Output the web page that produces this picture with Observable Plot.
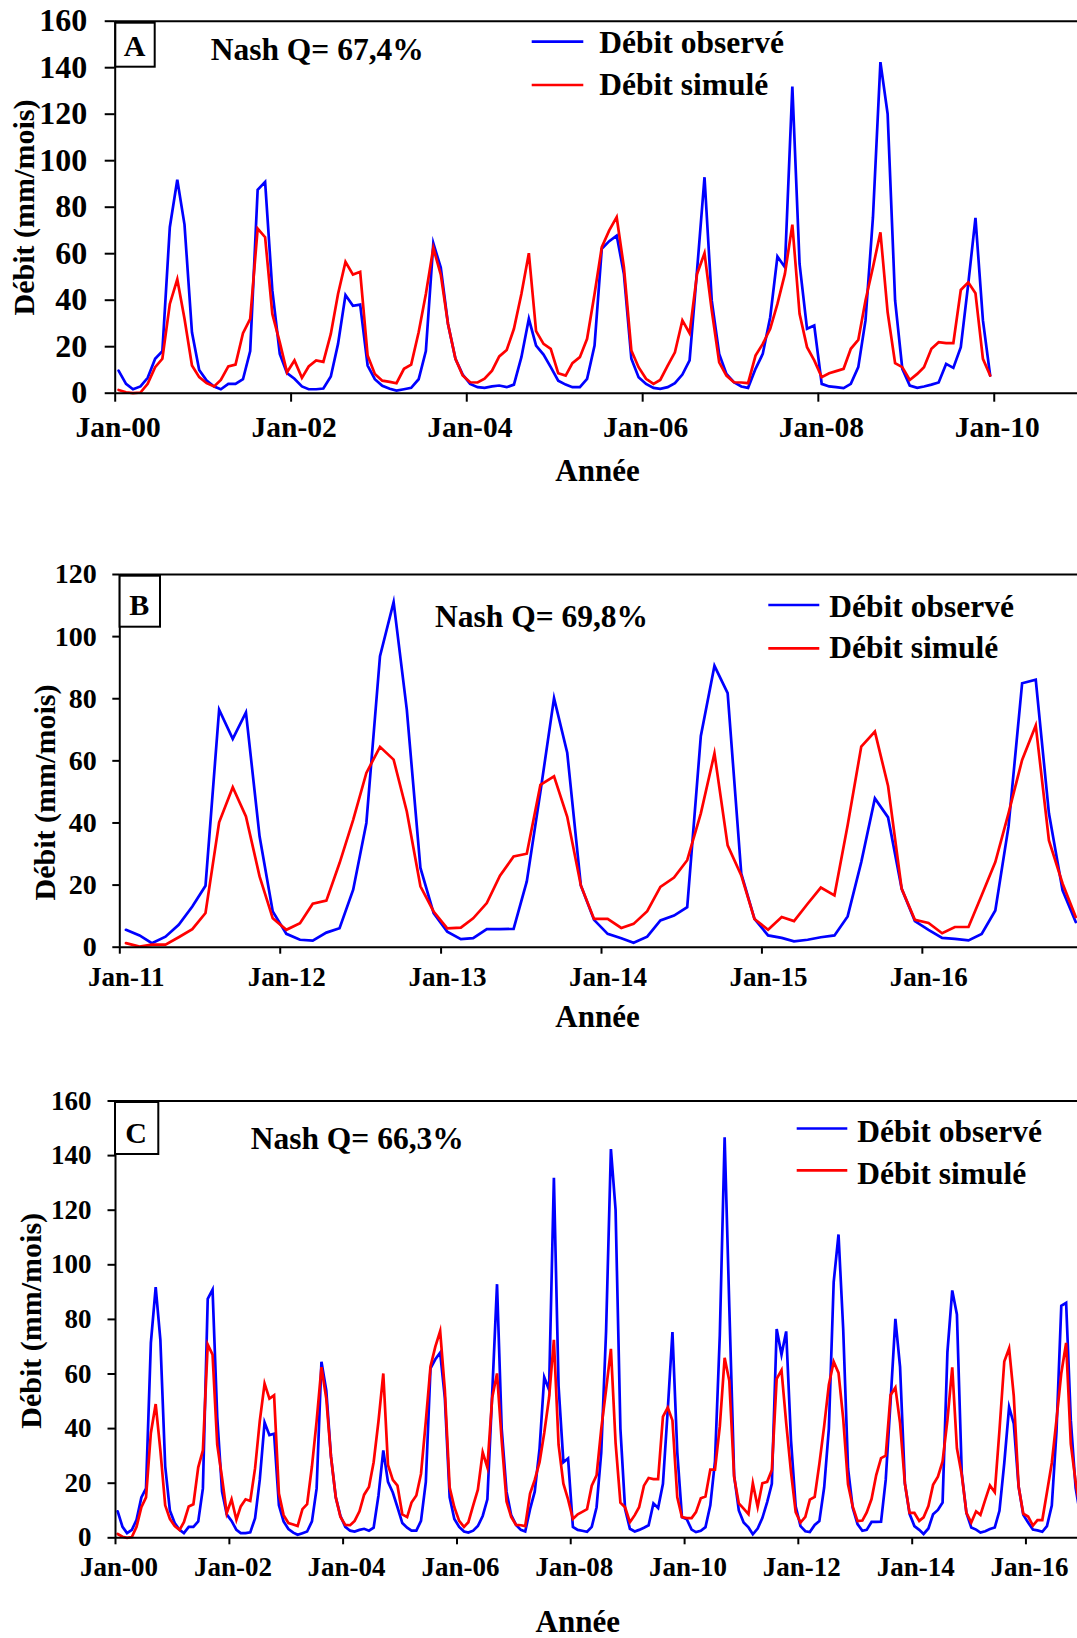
<!DOCTYPE html>
<html>
<head>
<meta charset="utf-8">
<script src="https://cdn.jsdelivr.net/npm/d3@7"></script>
<script src="https://cdn.jsdelivr.net/npm/@observablehq/plot@0.6"></script>
<style>
  body { margin: 0; background: #fff; }
  #fig { position: relative; width: 1077px; height: 1638px; overflow: hidden; background: #fff; }
  #fig > div.pl { position: absolute; left: 0; }
</style>
</head>
<body>
<div id="fig"></div>
<script>
// ---------------- DATA ----------------
// Panel A : monthly discharge, Jan 2000 - Dec 2009 (mm/month)
const obsA = [
  9.7, 4.0, 1.7, 2.9, 6.6, 14.8, 18.1, 71.4, 91.8, 72.5, 26.2, 10.0,
  5.4, 2.9, 1.7, 4.0, 4.0, 6.0, 18.1, 87.5, 90.9, 44.2, 16.9, 8.6,
  6.2, 2.9, 1.7, 1.7, 2.0, 7.2, 21.2, 42.2, 37.6, 38.1, 11.9, 6.0,
  3.2, 1.9, 1.1, 1.7, 2.3, 6.0, 18.1, 64.5, 54.0, 29.8, 14.8, 8.0,
  4.0, 2.6, 2.3, 2.9, 3.3, 2.6, 3.7, 15.5, 32.0, 20.5, 16.6, 11.2,
  5.4, 3.7, 2.6, 2.6, 6.2, 20.5, 62.1, 65.4, 67.8, 51.3, 14.8, 6.9,
  4.0, 2.3, 1.9, 2.6, 4.3, 8.0, 14.1, 52.8, 92.9, 39.9, 16.9, 8.3,
  4.7, 2.9, 2.3, 10.5, 16.9, 32.7, 58.8, 54.2, 131.9, 55.6, 27.7, 29.1,
  4.0, 2.9, 2.6, 2.2, 4.0, 11.2, 31.3, 75.7, 142.4, 120.1, 39.9, 10.5,
  3.3, 2.3, 2.9, 3.7, 4.6, 12.6, 10.9, 19.8, 47.0, 75.4, 31.3, 7.6
];
const simA = [
  1.4, 0.4, 0.0, 0.3, 4.0, 11.2, 14.8, 38.4, 49.0, 32.0, 11.9, 6.9,
  4.3, 2.9, 5.7, 11.5, 12.3, 25.8, 32.0, 70.8, 67.1, 34.1, 21.9, 9.0,
  14.1, 6.6, 11.5, 14.1, 13.5, 25.5, 42.7, 56.5, 51.0, 52.2, 16.2, 8.3,
  5.4, 4.9, 4.3, 10.5, 12.3, 26.2, 42.7, 62.5, 51.0, 29.8, 14.8, 7.6,
  4.7, 4.6, 6.2, 9.7, 15.8, 18.6, 27.7, 42.7, 60.2, 26.7, 21.2, 19.1,
  8.6, 7.6, 12.9, 15.5, 23.4, 42.7, 62.8, 70.0, 75.7, 54.2, 18.4, 11.2,
  6.2, 4.0, 5.7, 11.9, 17.6, 31.3, 25.8, 51.3, 60.2, 35.6, 13.3, 7.6,
  4.7, 4.6, 4.3, 16.2, 21.2, 27.7, 38.4, 51.3, 72.5, 34.1, 19.8, 14.1,
  6.9, 8.6, 9.5, 10.5, 19.1, 22.9, 39.9, 54.2, 69.2, 34.8, 12.9, 11.2,
  5.7, 8.3, 11.2, 19.1, 21.9, 21.5, 21.5, 44.4, 47.7, 43.0, 14.8, 7.6
];
// Year 2010 (only in panel C)
const obs2010 = [6.8, 3.0, 2.1, 2.6, 3.9, 11.9, 28.0, 74.2, 146.7, 84.5, 22.8, 10.0];
const sim2010 = [7.2, 7.2, 9.4, 14.5, 15.1, 25.0, 25.0, 40.8, 65.9, 57.5, 22.2, 12.6];
// Panel B : Jan 2011 - Dec 2016
const obsB = [
  5.6, 3.8, 1.3, 3.4, 7.2, 13.1, 19.8, 76.5, 67.1, 75.6, 35.7, 11.5,
  4.3, 2.4, 2.1, 4.7, 6.1, 18.5, 40.0, 93.7, 111.1, 76.5, 25.5, 11.0,
  5.0, 2.6, 2.9, 5.8, 5.8, 5.9, 21.2, 50.0, 80.2, 62.6, 19.9, 8.8,
  4.3, 2.9, 1.4, 3.4, 8.6, 10.2, 12.9, 68.0, 90.6, 81.8, 23.7, 9.1,
  3.8, 3.0, 1.9, 2.4, 3.2, 3.8, 9.9, 27.4, 47.9, 41.8, 18.8, 8.4,
  5.6, 3.0, 2.7, 2.2, 4.3, 11.8, 38.8, 85.0, 86.1, 43.1, 18.3, 8.1
];
const simB = [
  1.3, 0.2, 0.8, 0.8, 3.2, 5.8, 11.0, 40.2, 51.5, 42.1, 22.8, 9.3,
  5.6, 7.7, 14.0, 15.0, 27.1, 41.0, 56.1, 64.5, 60.4, 43.7, 19.6, 11.5,
  6.1, 6.3, 9.3, 14.2, 23.0, 29.2, 30.1, 52.3, 55.0, 42.0, 19.9, 9.1,
  9.1, 6.2, 7.5, 11.6, 19.4, 22.4, 28.0, 43.1, 62.4, 32.8, 23.1, 9.1,
  5.6, 9.7, 8.4, 14.0, 19.2, 16.7, 39.3, 64.6, 69.4, 51.9, 18.8, 8.8,
  7.8, 4.5, 6.5, 6.5, 16.7, 27.4, 43.1, 60.3, 71.4, 34.4, 20.5, 9.7
];
// Simulated 2011 in the continuous run of panel C
const simC2011 = [10.7, 8.7, 20.0, 11.3, 20.0, 20.5, 24.8, 58.2, 61.4, 42.1, 24.1, 9.4];

const panelLetters = ["A", "B", "C"];
const nashLabels = ["Nash Q= 67,4%", "Nash Q= 69,8%", "Nash Q= 66,3%"];
const legendLabels = ["Débit observé", "Débit simulé"];
const yTitle = "Débit (mm/mois)";
const xTitle = "Année";
const yTicksA = [0, 20, 40, 60, 80, 100, 120, 140, 160];
const yTicksB = [0, 20, 40, 60, 80, 100, 120];
const yTicksC = [0, 20, 40, 60, 80, 100, 120, 140, 160];
const xTickYearsA = [2000, 2002, 2004, 2006, 2008, 2010];
const xTickYearsB = [2011, 2012, 2013, 2014, 2015, 2016];
const xTickYearsC = [2000, 2002, 2004, 2006, 2008, 2010, 2012, 2014, 2016];

// ---------------- HELPERS ----------------
const FONT = "'Liberation Serif', 'Times New Roman', Times, serif";
const BLUE = "#0000ff", RED = "#ff0000";
const series = (startYear, obs, sim) =>
  obs.map((o, i) => ({ date: new Date(Date.UTC(startYear, i, 15)), obs: o, sim: sim[i] }));
const yearDate = y => new Date(Date.UTC(y, 0, 1));
const fmtJan = d => "Jan-" + String(d.getUTCFullYear() % 100).padStart(2, "0");

const obsC = [...obsA, ...obs2010, ...obsB];
const simC = [...simA, ...sim2010, ...simC2011, ...simB.slice(12)];

function panel(cfg) {
  const data = series(cfg.start, cfg.obs, cfg.sim);
  const xt = cfg.xYears.map(yearDate);
  const lineOpts = { strokeWidth: 2.7, strokeLinejoin: "miter", strokeMiterlimit: 6 };
  return Plot.plot({
    width: 1077, height: cfg.height,
    marginTop: cfg.mt, marginBottom: cfg.mb, marginLeft: cfg.ml, marginRight: 0,
    style: { fontFamily: FONT, fontWeight: "bold", background: "transparent", color: "#000" },
    x: { type: "utc", domain: cfg.xDomain, label: null },
    y: { domain: cfg.yDomain, label: null },
    marks: [
      Plot.line(data, { x: "date", y: "obs", stroke: BLUE, ...lineOpts }),
      Plot.line(data, { x: "date", y: "sim", stroke: RED, ...lineOpts }),
      Plot.ruleY([cfg.yDomain[1]], { stroke: "#000", strokeWidth: 2 }),
      Plot.ruleY([0], { stroke: "#000", strokeWidth: 2 }),
      Plot.ruleX([cfg.xDomain[0]], { stroke: "#000", strokeWidth: 2 }),
      Plot.axisY(cfg.yTicks, { tickSize: cfg.yTick, tickPadding: cfg.yPad, fontSize: cfg.yFont, strokeWidth: 2, label: null }),
      Plot.axisX(xt, { tickSize: cfg.xTick, fill: "none", strokeWidth: 2, label: null, tickFormat: fmtJan }),
      Plot.axisX(xt, { tickSize: 0, tickPadding: cfg.xOff, fontSize: cfg.xFont, dx: cfg.xdx, label: null, tickFormat: fmtJan })
    ]
  });
}

const panels = [
  { top: 0, height: 450, mt: 20.7, mb: 57.3, ml: 114.7, start: 2000, obs: obsA, sim: simA,
    xDomain: [yearDate(2000), new Date("2010-12-13")], yDomain: [0, 160], yTicks: yTicksA, xYears: xTickYearsA,
    yTick: 10, yPad: 18, yFont: 32, xTick: 9, xOff: 22.4, xFont: 29.5, xdx: 3 },
  { top: 540, height: 460, mt: 34, mb: 53.3, ml: 119.3, start: 2011, obs: obsB, sim: simB,
    xDomain: [yearDate(2011), new Date("2016-12-19")], yDomain: [0, 120], yTicks: yTicksB, xYears: xTickYearsB,
    yTick: 7, yPad: 16, yFont: 28, xTick: 7, xOff: 20.1, xFont: 27, xdx: 6.5 },
  { top: 1070, height: 530, mt: 30.5, mb: 62.7, ml: 115, start: 2000, obs: obsC, sim: simC,
    xDomain: [yearDate(2000), new Date("2016-11-27")], yDomain: [0, 160], yTicks: yTicksC, xYears: xTickYearsC,
    yTick: 7.5, yPad: 16.5, yFont: 27, xTick: 7, xOff: 19.5, xFont: 27, xdx: 3.5 }
];

const fig = document.getElementById("fig");
for (const p of panels) {
  const wrap = document.createElement("div");
  wrap.className = "pl";
  wrap.style.top = p.top + "px";
  wrap.appendChild(panel(p));
  fig.appendChild(wrap);
}

// ---------------- ANNOTATIONS (letters, Nash, legends, titles) ----------------
const notes = [
  { box: [115.3, 22.7, 39.4, 44], letter: [134.7, 56], nash: [210.7, 60],
    leg: { x1: 531.7, x2: 583.3, y1: 41.7, y2: 85, tx: 599.3, t1: 52.7, t2: 95 },
    yt: [23.8, 207.5], xt: [597.5, 480.5] },
  { box: [119.6, 575.7, 40.4, 51], letter: [139.3, 615], nash: [435, 626.7],
    leg: { x1: 768.3, x2: 819.3, y1: 605, y2: 648.3, tx: 829.3, t1: 616.7, t2: 658.3 },
    yt: [44, 792.5], xt: [597.5, 1026.7] },
  { box: [115, 1102, 43.3, 52], letter: [136.2, 1143], nash: [250.7, 1149.4],
    leg: { x1: 796.7, x2: 847.3, y1: 1128.5, y2: 1170.4, tx: 857.3, t1: 1141.7, t2: 1184.4 },
    yt: [30, 1320.8], xt: [577.8, 1632] }
];

const ov = d3.select(fig).append("svg")
  .attr("width", 1077).attr("height", 1638)
  .style("position", "absolute").style("left", 0).style("top", 0)
  .style("font-family", FONT).style("font-weight", "bold");

notes.forEach((n, i) => {
  ov.append("rect").attr("x", n.box[0]).attr("y", n.box[1]).attr("width", n.box[2]).attr("height", n.box[3])
    .attr("fill", "#fff").attr("stroke", "#000").attr("stroke-width", 2);
  ov.append("text").attr("x", n.letter[0]).attr("y", n.letter[1]).attr("text-anchor", "middle")
    .attr("font-size", 30).text(panelLetters[i]);
  ov.append("text").attr("x", n.nash[0]).attr("y", n.nash[1]).attr("font-size", 31.5).text(nashLabels[i]);
  const L = n.leg;
  ov.append("line").attr("x1", L.x1).attr("x2", L.x2).attr("y1", L.y1).attr("y2", L.y1)
    .attr("stroke", BLUE).attr("stroke-width", 2.7);
  ov.append("line").attr("x1", L.x1).attr("x2", L.x2).attr("y1", L.y2).attr("y2", L.y2)
    .attr("stroke", RED).attr("stroke-width", 2.7);
  ov.append("text").attr("x", L.tx).attr("y", L.t1).attr("font-size", 31.5).text(legendLabels[0]);
  ov.append("text").attr("x", L.tx).attr("y", L.t2).attr("font-size", 31.5).text(legendLabels[1]);
  ov.append("text").attr("transform", `translate(${n.yt[0] + 10.5},${n.yt[1]}) rotate(-90)`)
    .attr("text-anchor", "middle").attr("font-size", 30).text(yTitle);
  ov.append("text").attr("x", n.xt[0]).attr("y", n.xt[1]).attr("text-anchor", "middle")
    .attr("font-size", 31).text(xTitle);
});
</script>
</body>
</html>
